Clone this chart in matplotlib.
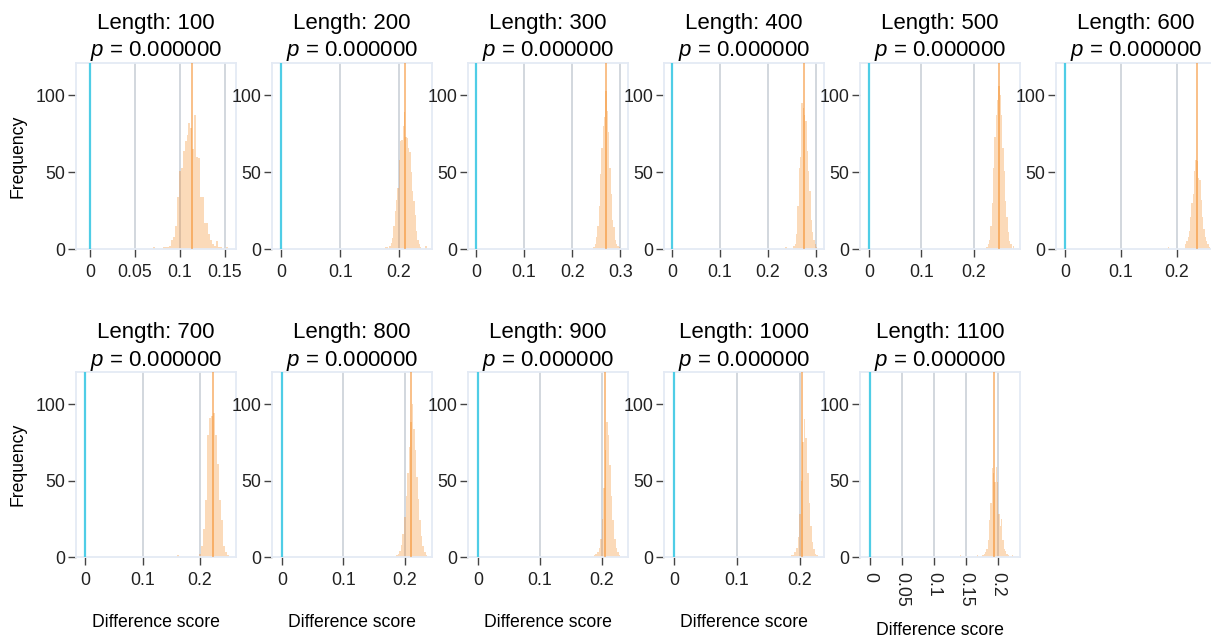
import matplotlib
matplotlib.use("Agg")
import matplotlib.pyplot as plt

plt.rcParams['font.family'] = ['Liberation Sans', 'DejaVu Sans']
plt.rcParams['mathtext.fontset'] = 'custom'
plt.rcParams['mathtext.it'] = 'Liberation Sans:italic'
plt.rcParams['mathtext.rm'] = 'Liberation Sans'

# data
lengths = [100, 200, 300, 400, 500, 600, 700, 800, 900, 1000, 1100]
p_values = [0.0, 0.0, 0.0, 0.0, 0.0, 0.0, 0.0, 0.0, 0.0, 0.0, 0.0]
observed = [0.0, 0.0, 0.0, 0.0, 0.0, 0.0, 0.0, 0.0, 0.0, 0.0, 0.0]
means = [0.1133, 0.2104, 0.2696, 0.2762, 0.2482, 0.2363,
         0.2233, 0.2098, 0.205, 0.203, 0.1942]

bin_start = [0.0698, 0.1765, 0.2439, 0.2364, 0.2241, 0.18336,
             0.1605, 0.186, 0.187, 0.186, 0.13964]
bin_width = [0.0022, 0.00227, 0.00277, 0.00279, 0.00254, 0.00238,
             0.0035, 0.0025, 0.0025, 0.0025, 0.00208]

counts_100 = [1, 0, 0, 0, 0, 1, 1, 1, 2, 6, 8, 15, 34, 51, 53, 64, 70, 74, 82, 79,
              65, 87, 60, 59, 34, 34, 17, 17, 10, 6, 3, 2, 5, 1, 1, 0, 0, 1]
counts_200 = [1, 1, 0, 2, 4, 7, 15, 25, 32, 40, 58, 70, 71, 80, 89, 73, 72, 66, 63,
              50, 38, 31, 22, 12, 6, 3, 1, 0, 0, 0, 2]
counts_300 = [1, 3, 8, 15, 28, 49, 66, 80, 86, 103, 90, 76, 53, 36, 19, 14, 6, 3, 2, 1]
counts_400 = [1, 0, 0, 0, 0, 0, 2, 3, 10, 28, 53, 60, 95, 92, 87, 83, 64, 51, 38, 19,
              11, 6, 3, 1]
counts_500 = [1, 3, 6, 15, 30, 53, 73, 87, 97, 106, 100, 87, 66, 51, 31, 21, 11, 5, 3,
              0, 2]
counts_600 = [1, 0, 0, 0, 0, 0, 0, 0, 0, 0, 0, 0, 0, 3, 5, 8, 12, 21, 30, 36, 51, 58,
              57, 46, 45, 32, 21, 13, 8, 5, 3, 1]
counts_700 = [1, 0, 0, 0, 0, 0, 0, 0, 0, 0, 0, 2, 7, 18, 37, 80, 91, 92, 94, 80, 61,
              37, 24, 7, 3, 1]
counts_800 = [1, 2, 4, 8, 15, 26, 40, 55, 72, 88, 100, 84, 70, 52, 38, 24, 14, 7, 3, 1]
counts_900 = [1, 2, 3, 6, 12, 25, 45, 70, 88, 80, 60, 40, 24, 12, 6, 3, 1]
counts_1000 = [1, 1, 3, 6, 13, 28, 50, 75, 90, 78, 55, 35, 20, 10, 5, 2, 1]
counts_1100 = [1, 0, 0, 0, 0, 0, 0, 0, 0, 0, 0, 0, 0, 1, 0, 0, 0, 1, 2, 3, 5, 11, 24,
               35, 58, 55, 49, 59, 49, 28, 20, 25, 11, 5, 4, 2, 1, 0, 0, 1]
all_counts = [counts_100, counts_200, counts_300, counts_400, counts_500, counts_600,
              counts_700, counts_800, counts_900, counts_1000, counts_1100]

x_ticks = [[0, 0.05, 0.1, 0.15], [0, 0.1, 0.2], [0, 0.1, 0.2, 0.3], [0, 0.1, 0.2, 0.3],
           [0, 0.1, 0.2], [0, 0.1, 0.2], [0, 0.1, 0.2], [0, 0.1, 0.2], [0, 0.1, 0.2],
           [0, 0.1, 0.2], [0, 0.05, 0.1, 0.15, 0.2]]
x_tick_labels = [["0", "0.05", "0.1", "0.15"], ["0", "0.1", "0.2"],
                 ["0", "0.1", "0.2", "0.3"], ["0", "0.1", "0.2", "0.3"],
                 ["0", "0.1", "0.2"], ["0", "0.1", "0.2"], ["0", "0.1", "0.2"],
                 ["0", "0.1", "0.2"], ["0", "0.1", "0.2"], ["0", "0.1", "0.2"],
                 ["0", "0.05", "0.1", "0.15", "0.2"]]
x_min = [-0.0156, -0.0158, -0.0166, -0.017, -0.017, -0.016,
         -0.016, -0.0163, -0.016, -0.0159, -0.0156]
x_max = [0.1622, 0.256, 0.316, 0.317, 0.288, 0.27,
         0.263, 0.244, 0.242, 0.238, 0.234]

W, H = 1211, 640
fig = plt.figure(figsize=(W / 100, H / 100), dpi=100)

frame_col = '#e4eaf4'
tick_col = '#444444'

for i, length in enumerate(lengths):
    row, col = i // 6, i % 6
    left = 76 + 196 * col
    top = 63 if row == 0 else 372
    h = 186 if row == 0 else 185
    ax = fig.add_axes([left / W, 1 - (top + h) / H, 160 / W, h / H])

    counts = all_counts[i]
    edges = [bin_start[i] + k * bin_width[i] for k in range(len(counts))]

    for t in x_ticks[i]:
        ax.axvline(t, color='#d2d7de', lw=1.4, zorder=1)
    ax.bar(edges, counts, width=bin_width[i], align='edge',
           color='#f58518', alpha=0.3, lw=0, zorder=2)
    ax.axvline(means[i], color='#f58518', alpha=0.65, lw=1.1, zorder=3)
    ax.axvline(observed[i], color='#4fcde6', lw=1.6, zorder=3)

    ax.set_xlim(x_min[i], x_max[i])
    ax.set_ylim(0, 121)
    ax.set_yticks([0, 50, 100])
    ax.set_xticks(x_ticks[i])
    rot = -90 if i == 10 else 0
    ax.set_xticklabels(x_tick_labels[i], rotation=rot)
    ax.tick_params(axis='both', length=5.5, width=1, color=tick_col,
                   labelsize=12.8, labelcolor='#222222')
    ax.tick_params(axis='x', pad=5)
    ax.tick_params(axis='y', pad=2)
    for s in ax.spines.values():
        s.set_color(frame_col)
        s.set_linewidth(1.3)

    ax.text(0.5, 1.212, f"Length: {length}", transform=ax.transAxes,
            ha='center', va='center', fontsize=16)
    ax.text(0.5, 1.062, f"$p$ = {p_values[i]:.6f}", transform=ax.transAxes,
            ha='center', va='center', fontsize=16)

    if col == 0:
        ax.text(-0.365, 0.5, "Frequency", transform=ax.transAxes, rotation=90,
                ha='center', va='center', fontsize=12.7)
    if row == 1:
        ylab = -0.395 if i == 10 else -0.352
        ax.text(0.5, ylab, "Difference score", transform=ax.transAxes,
                ha='center', va='center', fontsize=12.7)

fig.savefig("out.png", dpi=100)
